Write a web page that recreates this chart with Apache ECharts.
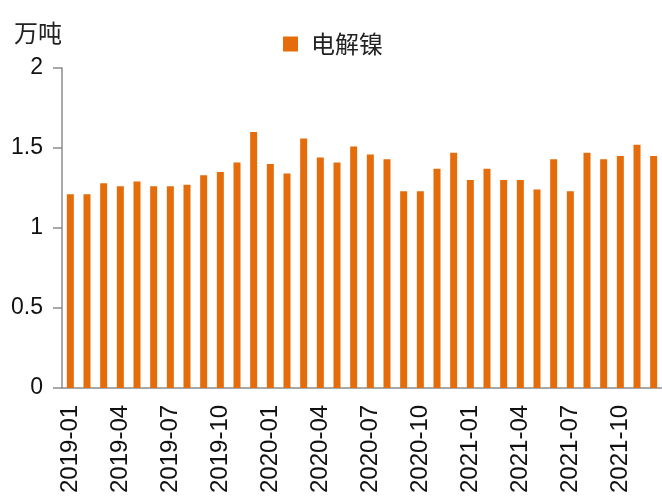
<!DOCTYPE html>
<html>
<head>
<meta charset="utf-8">
<script src="https://cdn.jsdelivr.net/npm/echarts@6/dist/echarts.min.js"></script>
<style>html,body{margin:0;padding:0;background:#fff;}#c{width:662px;height:496px;}</style>
</head>
<body>
<div id="c"></div>
<script>
const categories = [
  '2019-01','2019-02','2019-03','2019-04','2019-05','2019-06','2019-07','2019-08','2019-09','2019-10','2019-11','2019-12',
  '2020-01','2020-02','2020-03','2020-04','2020-05','2020-06','2020-07','2020-08','2020-09','2020-10','2020-11','2020-12',
  '2021-01','2021-02','2021-03','2021-04','2021-05','2021-06','2021-07','2021-08','2021-09','2021-10','2021-11','2021-12'
];
const seriesName = '电解镍';
const nickelValues = [
  1.21,1.21,1.28,1.26,1.29,1.26,1.26,1.27,1.33,1.35,1.41,1.60,
  1.40,1.34,1.56,1.44,1.41,1.51,1.46,1.43,1.23,1.23,1.37,1.47,
  1.30,1.37,1.30,1.30,1.24,1.43,1.23,1.47,1.43,1.45,1.52,1.45
];
const unitLabel = '万吨';

const chart = echarts.init(document.getElementById('c'));
chart.setOption({
  animation: false,
  backgroundColor: '#fff',
  grid: { left: 62, right: 0, top: 68, bottom: 106, containLabel: false },
  graphic: [{
    type: 'text', left: 14, top: 21,
    style: { text: unitLabel, font: '24px "Noto Sans CJK SC"', fill: '#222' }
  }],
  legend: {
    left: 278, top: 27,
    itemWidth: 15, itemHeight: 15, icon: 'rect',
    textStyle: { fontFamily: 'Noto Sans CJK SC', fontSize: 24, color: '#222', padding: [0, 0, 0, 8] },
    data: [seriesName]
  },
  xAxis: {
    type: 'category',
    data: categories,
    axisLine: { lineStyle: { color: '#8c8c8c', width: 1.5 } },
    axisTick: { interval: 2, length: 9, lineStyle: { color: '#8c8c8c', width: 1.5 } },
    axisLabel: {
      interval: 2, rotate: 90, margin: 17,
      fontFamily: 'Liberation Sans', fontSize: 24, color: '#111'
    }
  },
  yAxis: {
    type: 'value', min: 0, max: 2, interval: 0.5,
    axisLine: { show: true, lineStyle: { color: '#8c8c8c', width: 1.5 } },
    axisTick: { show: true, length: 9, lineStyle: { color: '#8c8c8c', width: 1.5 } },
    splitLine: { show: false },
    axisLabel: { margin: 19, fontFamily: 'Liberation Sans', fontSize: 23, color: '#111' }
  },
  series: [{
    name: seriesName,
    type: 'bar',
    data: nickelValues,
    barWidth: 7,
    itemStyle: { color: '#E46C0A' }
  }]
});
</script>
</body>
</html>
